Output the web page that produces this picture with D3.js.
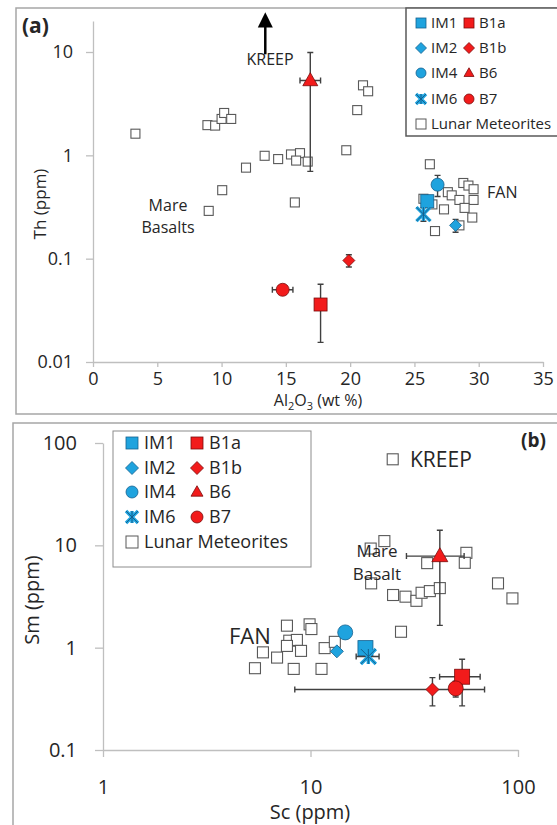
<!DOCTYPE html>
<html>
<head>
<meta charset="utf-8">
<script src="https://cdn.jsdelivr.net/npm/d3@7"></script>
<style>
  body { margin: 0; background: #fff; }
  text { font-family: "Open Sans", sans-serif; fill: #262626; }
</style>
</head>
<body>
<div id="chart"></div>
<script>
// sample names and symbols
const sampleNames = ["IM1", "IM2", "IM4", "IM6", "B1a", "B1b", "B6", "B7"];
const sampleShapes = ["square", "diamond", "circle", "star", "square", "diamond", "triangle", "circle"];

// panel (a): Al2O3 (wt %) vs Th (ppm)
const al2o3 = [26.0, 28.2, 26.8, 25.7, 17.7, 19.9, 16.9, 14.75];
const al2o3Err = [0, 0, 0, 0, 0, 0, 0.8, 0.8];
const th = [0.36, 0.21, 0.52, 0.27, 0.036, 0.096, 5.3, 0.050];
const thErr = [0, 0.03, 0.12, 0.04, 0.0205, 0.013, 4.6, 0];

// panel (b): Sc (ppm) vs Sm (ppm)
const sc = [18.4, 13.4, 14.7, 19.0, 53.8, 38.7, 42.0, 50.1];
const scErr = [0, 0, 0, 2.4, 11.9, 30.3, 13, 0];
const sm = [0.99, 0.92, 1.41, 0.82, 0.52, 0.39, 7.85, 0.40];
const smErr = [0, 0, 0, 0.04, 0.25, 0.12, 6.2, 0.07];

// lunar meteorites [Al2O3, Th]
const lunarA = [
  [3.3, 1.62], [8.9, 1.96], [9.5, 1.94], [10.0, 2.25], [10.2, 2.57], [10.75, 2.25],
  [13.35, 0.99], [14.4, 0.92], [15.4, 1.02], [16.1, 1.05], [15.8, 0.89], [16.7, 0.87],
  [11.9, 0.76], [10.05, 0.46], [9.0, 0.29], [15.7, 0.35], [19.7, 1.12], [20.55, 2.74],
  [21.0, 4.76], [21.4, 4.17],
  [26.2, 0.82], [28.8, 0.54], [29.2, 0.51], [29.6, 0.47], [27.6, 0.44], [27.9, 0.41],
  [28.5, 0.37], [29.6, 0.37], [28.9, 0.31], [27.3, 0.30], [29.5, 0.25], [26.6, 0.185],
  [28.5, 0.21], [26.4, 0.335], [25.7, 0.38]
];

// lunar meteorites [Sc, Sm]
const lunarB = [
  [7.7, 1.64], [9.9, 1.69], [10.1, 1.52], [7.9, 1.17], [8.6, 1.19], [7.7, 1.04],
  [9.0, 0.93], [5.9, 0.90], [6.9, 0.80], [5.4, 0.63], [8.3, 0.62], [11.3, 0.62],
  [11.7, 0.99], [13.1, 1.14], [27.3, 1.43],
  [22.7, 11.0], [19.5, 9.3], [36.5, 6.7], [56.4, 8.45], [55.4, 6.75], [19.6, 4.25],
  [25.0, 3.27], [28.7, 3.15], [32.4, 2.87], [34.3, 3.44], [37.6, 3.57], [42.0, 3.82],
  [80.1, 4.25], [94.0, 3.03]
];
const kreepB = [[24.9, 69.3]];

const xTicksA = [0, 5, 10, 15, 20, 25, 30, 35];
const yTicksA = [0.01, 0.1, 1, 10];
const xTicksB = [1, 10, 100];
const yTicksB = [0.1, 1, 10, 100];

const blue = "#1fa3de", blueLine = "#14618f";
const red = "#f21b1b", redLine = "#7a0b0b";

const svg = d3.select("#chart").append("svg")
    .attr("width", 557)
    .attr("height", 825);

function markerColor(name) {
    return name.startsWith("IM") ? [blue, blueLine] : [red, redLine];
}

// draws one marker centred at cx, cy with size s
function drawMarker(g, shape, name, cx, cy, s) {
    const [fill, stroke] = markerColor(name);
    if (shape === "square") {
        g.append("rect").attr("x", cx - s / 2).attr("y", cy - s / 2)
            .attr("width", s).attr("height", s)
            .attr("fill", fill).attr("stroke", stroke).attr("stroke-width", 0.8);
    } else if (shape === "diamond") {
        const h = s / 2;
        g.append("path").attr("d", `M${cx},${cy - h}L${cx + h},${cy}L${cx},${cy + h}L${cx - h},${cy}Z`)
            .attr("fill", fill).attr("stroke", stroke).attr("stroke-width", 0.8);
    } else if (shape === "circle") {
        g.append("circle").attr("cx", cx).attr("cy", cy).attr("r", s / 2)
            .attr("fill", fill).attr("stroke", stroke).attr("stroke-width", 0.8);
    } else if (shape === "triangle") {
        const h = s * 0.87;
        g.append("path").attr("d", `M${cx},${cy - h * 0.6}L${cx + s / 2},${cy + h * 0.4}L${cx - s / 2},${cy + h * 0.4}Z`)
            .attr("fill", fill).attr("stroke", stroke).attr("stroke-width", 0.8);
    } else if (shape === "star") {
        const h = s / 2;
        const d = `M${cx - h},${cy - h}L${cx + h},${cy + h}M${cx + h},${cy - h}L${cx - h},${cy + h}M${cx},${cy - h}L${cx},${cy + h}`;
        g.append("path").attr("d", d).attr("stroke", fill).attr("stroke-width", 3.4).attr("fill", "none");
        g.append("path").attr("d", d).attr("stroke", stroke).attr("stroke-width", 1).attr("fill", "none");
    }
}

function styleAxis(g, size) {
    g.attr("font-family", "Open Sans").attr("font-size", size);
    g.select(".domain").attr("stroke", "#bfbfbf").attr("stroke-width", 1.3);
    g.selectAll(".tick line").attr("stroke", "#bfbfbf").attr("stroke-width", 1.3);
    g.selectAll(".tick text").attr("fill", "#262626");
}

function drawErrors(g, x, y, xs, ys, xe, ye) {
    xs.forEach((v, i) => {
        const px = x(v), py = y(ys[i]);
        if (xe[i] > 0) {
            const x0 = x(v - xe[i]), x1 = x(v + xe[i]);
            g.append("path")
                .attr("d", `M${x0},${py}H${x1}M${x0},${py - 3}V${py + 3}M${x1},${py - 3}V${py + 3}`)
                .attr("stroke", "#404040").attr("stroke-width", 1.4).attr("fill", "none");
        }
        if (ye[i] > 0) {
            const y0 = y(ys[i] - ye[i]), y1 = y(ys[i] + ye[i]);
            g.append("path")
                .attr("d", `M${px},${y0}V${y1}M${px - 3},${y0}H${px + 3}M${px - 3},${y1}H${px + 3}`)
                .attr("stroke", "#404040").attr("stroke-width", 1.4).attr("fill", "none");
        }
    });
}

function drawLegend(g, x0, y0, w, h, rows, col1, col2, textOff, size, msize, stroke) {
    g.append("rect").attr("x", x0).attr("y", y0).attr("width", w).attr("height", h)
        .attr("fill", "#fff").attr("stroke", stroke.color).attr("stroke-width", stroke.width);
    for (let r = 0; r < 4; r++) {
        [r, r + 4].forEach((i, c) => {
            const mx = c === 0 ? col1 : col2;
            drawMarker(g, sampleShapes[i], sampleNames[i], mx, rows[r], sampleShapes[i] === "diamond" ? msize + 1 : msize);
            g.append("text").attr("x", mx + textOff).attr("y", rows[r]).attr("dy", "0.36em")
                .attr("font-size", size).text(sampleNames[i]);
        });
    }
    g.append("rect").attr("x", col1 - msize / 2).attr("y", rows[4] - msize / 2)
        .attr("width", msize).attr("height", msize)
        .attr("fill", "#fff").attr("stroke", "#595959").attr("stroke-width", 1);
    g.append("text").attr("x", col1 + textOff).attr("y", rows[4]).attr("dy", "0.36em")
        .attr("font-size", size).text("Lunar Meteorites");
}

// ---------- panel (a) ----------
const gA = svg.append("g");
gA.append("rect").attr("x", 16).attr("y", 8).attr("width", 560).attr("height", 406)
    .attr("fill", "none").attr("stroke", "#a6a6a6").attr("stroke-width", 1.5);

const xA = d3.scaleLinear().domain([0, 35]).range([93, 543]);
const yA = d3.scaleLog().domain([0.01, 20]).range([362, 20.9]);

gA.append("g").attr("transform", "translate(0,362)")
    .call(d3.axisBottom(xA).tickValues(xTicksA).tickSize(5).tickPadding(5).tickSizeOuter(0))
    .call(g => styleAxis(g, 18));
gA.append("g").attr("transform", "translate(93,0)")
    .call(d3.axisLeft(yA).tickValues(yTicksA).tickFormat(d3.format("~g")).tickSize(7).tickPadding(13).tickSizeOuter(0))
    .call(g => styleAxis(g, 18));

const titleA = gA.append("text").attr("x", 318).attr("y", 406).attr("text-anchor", "middle").attr("font-size", 16);
titleA.append("tspan").text("Al");
titleA.append("tspan").attr("font-size", 11).attr("dy", 4).text("2");
titleA.append("tspan").attr("dy", -4).text("O");
titleA.append("tspan").attr("font-size", 11).attr("dy", 4).text("3");
titleA.append("tspan").attr("dy", -4).text(" (wt %)");

gA.append("text").attr("transform", "translate(46,204) rotate(-90)").attr("text-anchor", "middle")
    .attr("font-size", 17).text("Th (ppm)");

gA.append("text").attr("x", 22).attr("y", 33).attr("font-size", 21).attr("font-weight", "bold").text("(a)");

gA.selectAll("rect.lm").data(lunarA).enter().append("rect").attr("class", "lm")
    .attr("x", d => xA(d[0]) - 4.5).attr("y", d => yA(d[1]) - 4.5)
    .attr("width", 9).attr("height", 9)
    .attr("fill", "#fff").attr("stroke", "#595959").attr("stroke-width", 1.1);

drawErrors(gA, xA, yA, al2o3, th, al2o3Err, thErr);
sampleNames.forEach((n, i) => {
    const s = { square: 13, diamond: 12, circle: 13, triangle: 15, star: 14 }[sampleShapes[i]];
    drawMarker(gA, sampleShapes[i], n, xA(al2o3[i]), yA(th[i]), s);
});

// KREEP arrow
const ax = xA(13.4);
gA.append("line").attr("x1", ax).attr("x2", ax).attr("y1", yA(9.5)).attr("y2", yA(17.5))
    .attr("stroke", "#000").attr("stroke-width", 2.5);
gA.append("path").attr("d", `M${ax},${yA(24.2)}L${ax + 7.5},${yA(17.3)}L${ax - 7.5},${yA(17.3)}Z`).attr("fill", "#000");
gA.append("text").attr("x", 270).attr("y", 65).attr("text-anchor", "middle").attr("font-size", 16).text("KREEP");
gA.append("text").attr("x", 168).attr("y", 211).attr("text-anchor", "middle").attr("font-size", 16).text("Mare");
gA.append("text").attr("x", 168).attr("y", 233).attr("text-anchor", "middle").attr("font-size", 16).text("Basalts");
gA.append("text").attr("x", 487).attr("y", 198).attr("font-size", 16).text("FAN");

drawLegend(gA, 406, 8, 162, 128, [23, 48, 73, 99, 124], 421, 469, 10, 15, 10, { color: "#595959", width: 1.5 });

// ---------- panel (b) ----------
const gB = svg.append("g");
gB.append("rect").attr("x", 13).attr("y", 423).attr("width", 560).attr("height", 420)
    .attr("fill", "none").attr("stroke", "#a6a6a6").attr("stroke-width", 1.5);

const xB = d3.scaleLog().domain([1, 100]).range([103, 518]);
const yB = d3.scaleLog().domain([0.1, 100]).range([750, 443]);

gB.append("g").attr("transform", "translate(0,750)")
    .call(d3.axisBottom(xB).tickValues(xTicksB).tickFormat(d3.format("~g")).tickSize(7).tickPadding(23).tickSizeOuter(0))
    .call(g => styleAxis(g, 20));
gB.append("g").attr("transform", "translate(103,0)")
    .call(d3.axisLeft(yB).tickValues(yTicksB).tickFormat(d3.format("~g")).tickSize(8).tickPadding(18).tickSizeOuter(0))
    .call(g => styleAxis(g, 20));

gB.append("text").attr("x", 310).attr("y", 819).attr("text-anchor", "middle").attr("font-size", 20).text("Sc (ppm)");
gB.append("text").attr("transform", "translate(39,600) rotate(-90)").attr("text-anchor", "middle")
    .attr("font-size", 20).text("Sm (ppm)");

gB.append("text").attr("x", 521).attr("y", 447).attr("font-size", 19).attr("font-weight", "bold")
    .attr("font-family", "Liberation Sans").text("(b)");

gB.selectAll("rect.lm").data(lunarB.concat(kreepB)).enter().append("rect").attr("class", "lm")
    .attr("x", d => xB(d[0]) - 5.5).attr("y", d => yB(d[1]) - 5.5)
    .attr("width", 11).attr("height", 11)
    .attr("fill", "#fff").attr("stroke", "#595959").attr("stroke-width", 1.1);

drawErrors(gB, xB, yB, sc, sm, scErr, smErr);
sampleNames.forEach((n, i) => {
    const s = { square: 15, diamond: 13, circle: 15, triangle: 16, star: 15 }[sampleShapes[i]];
    drawMarker(gB, sampleShapes[i], n, xB(sc[i]), yB(sm[i]), s);
});

gB.append("text").attr("x", 410).attr("y", 467).attr("font-size", 21)
    .attr("font-family", "Liberation Sans").attr("fill", "#000").text("KREEP");
gB.append("text").attr("x", 377).attr("y", 557).attr("text-anchor", "middle").attr("font-size", 17)
    .attr("font-family", "Liberation Sans").attr("fill", "#000").text("Mare");
gB.append("text").attr("x", 377).attr("y", 580).attr("text-anchor", "middle").attr("font-size", 17)
    .attr("font-family", "Liberation Sans").attr("fill", "#000").text("Basalt");
gB.append("text").attr("x", 229).attr("y", 644).attr("font-size", 22)
    .attr("font-family", "Liberation Sans").attr("fill", "#000").text("FAN");

drawLegend(gB, 113, 431, 198, 136, [443, 468, 492, 517, 542], 132, 197, 12, 18, 12, { color: "#8c8c8c", width: 1 });
</script>
</body>
</html>
